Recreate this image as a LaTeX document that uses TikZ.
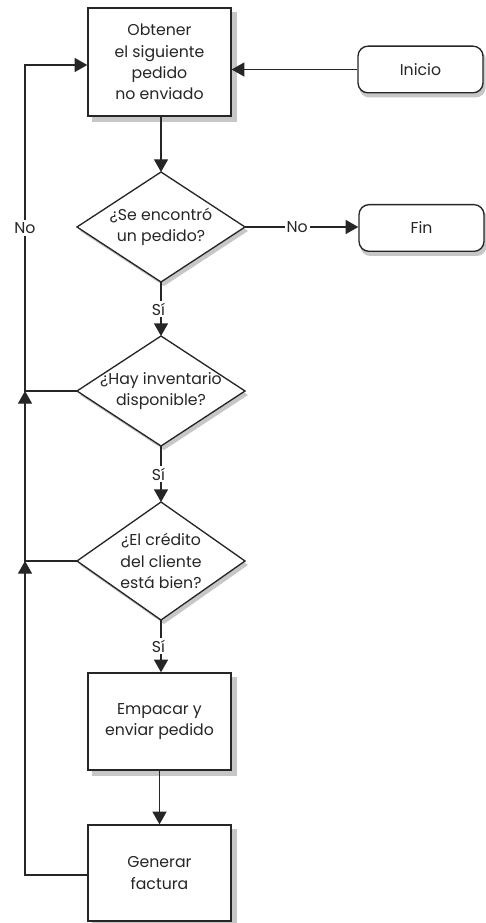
\documentclass[tikz,border=0pt]{standalone}
\usepackage{fontspec}
\setmainfont{Poppins}
\usetikzlibrary{arrows.meta,backgrounds}
\begin{document}
\begin{tikzpicture}[x=0.75pt,y=-0.75pt,
  every node/.style={font=\fontsize{11.8}{16}\selectfont, text=black!85},
  procbox/.style={draw=black!85, line width=1pt, fill=white, align=center, inner sep=0pt, minimum width=107.25pt},
  termbox/.style={draw=black!85, line width=1pt, fill=white, rounded corners=7.5pt, align=center, inner sep=0pt, minimum width=93.75pt, minimum height=35pt},
  dtext/.style={align=center, inner sep=0pt},
  dshape/.style={draw=black!85, line width=1pt, fill=white, line join=miter},
  shadowfill/.style={fill=black!22, draw=none},
  conn/.style={draw=black!85, line width=1pt},
  arr/.style={conn, -{Triangle[length=9.5pt, width=10.5pt]}},
  lbl/.style={fill=white, inner sep=1.5pt}
]
\useasboundingbox (0,0) rectangle (485,923);

% process boxes and terminals
\node[procbox, minimum height=81pt] (b1) at (159.5,62) {Obtener\\el siguiente\\pedido\\no enviado};
\node[termbox] (ini) at (420.5,69.5) {Inicio};
\node[termbox] (fin) at (421.5,228) {Fin};
\node[procbox, minimum height=72.75pt] (b2) at (159.5,721.5) {Empacar y\\enviar pedido};
\node[procbox, minimum height=72pt] (b3) at (159.5,873) {Generar\\factura};

% decision diamonds: shadow, outline, text
\foreach \nm/\cy/\hh in {d1/227/55, d2/391/55, d3/561/59}{
  \coordinate (\nm n) at (161,\cy-\hh);
  \coordinate (\nm s) at (161,\cy+\hh);
  \coordinate (\nm w) at (77,\cy);
  \coordinate (\nm e) at (245,\cy);
  \fill[shadowfill] ([shift={(3,4)}]\nm n) -- ([shift={(3,4)}]\nm e) -- ([shift={(3,4)}]\nm s) -- ([shift={(3,4)}]\nm w) -- cycle;
  \draw[dshape] (\nm n) -- (\nm e) -- (\nm s) -- (\nm w) -- cycle;
}
\node[dtext] (d1) at (161,227) {¿Se encontró\\un pedido?};
\node[dtext] (d2) at (161,391) {¿Hay inventario\\disponible?};
\node[dtext] (d3) at (161,561) {¿El crédito\\del cliente\\está bien?};

\begin{scope}[on background layer]
  \foreach \bx in {b1,b2,b3}{
    \fill[shadowfill] ([shift={(5,5)}]\bx.south west) rectangle ([shift={(5,5)}]\bx.north east);
  }
  \foreach \bx in {ini,fin}{
    \fill[shadowfill, rounded corners=7.5pt] ([shift={(2,4)}]\bx.south west) rectangle ([shift={(2,4)}]\bx.north east);
  }
\end{scope}

\coordinate (j1) at (25,65);
\coordinate (j2) at (25,391);
\coordinate (j3) at (25,561);
\coordinate (j4) at (25,875);

\draw[arr] (ini.west) -- (ini.west -| b1.east);
\draw[arr] (b1.south -| d1n) -- (d1n);
\draw[arr] (d1e) -- node[lbl, pos=0.46] {No} (fin.west |- d1e);
\draw[arr] (d1s) -- node[lbl, pos=0.5, xshift=-2pt] {Sí} (d2n);
\draw[arr] (d2s) -- node[lbl, pos=0.5, xshift=-2pt] {Sí} (d3n);
\draw[arr] (d3s) -- node[lbl, pos=0.5, xshift=-2pt] {Sí} (b2.north -| d3s);
\draw[arr] (b2.south) -- (b3.north);

\draw[arr] (b3.west |- j4) -- (j4) -- (j3);
\draw[arr] (d3w) -- (j3) -- (j2);
\draw[arr] (d2w) -- (j2) -- node[lbl, pos=0.50] {No} (j1) -- (j1 -| b1.west);
\end{tikzpicture}
\end{document}
